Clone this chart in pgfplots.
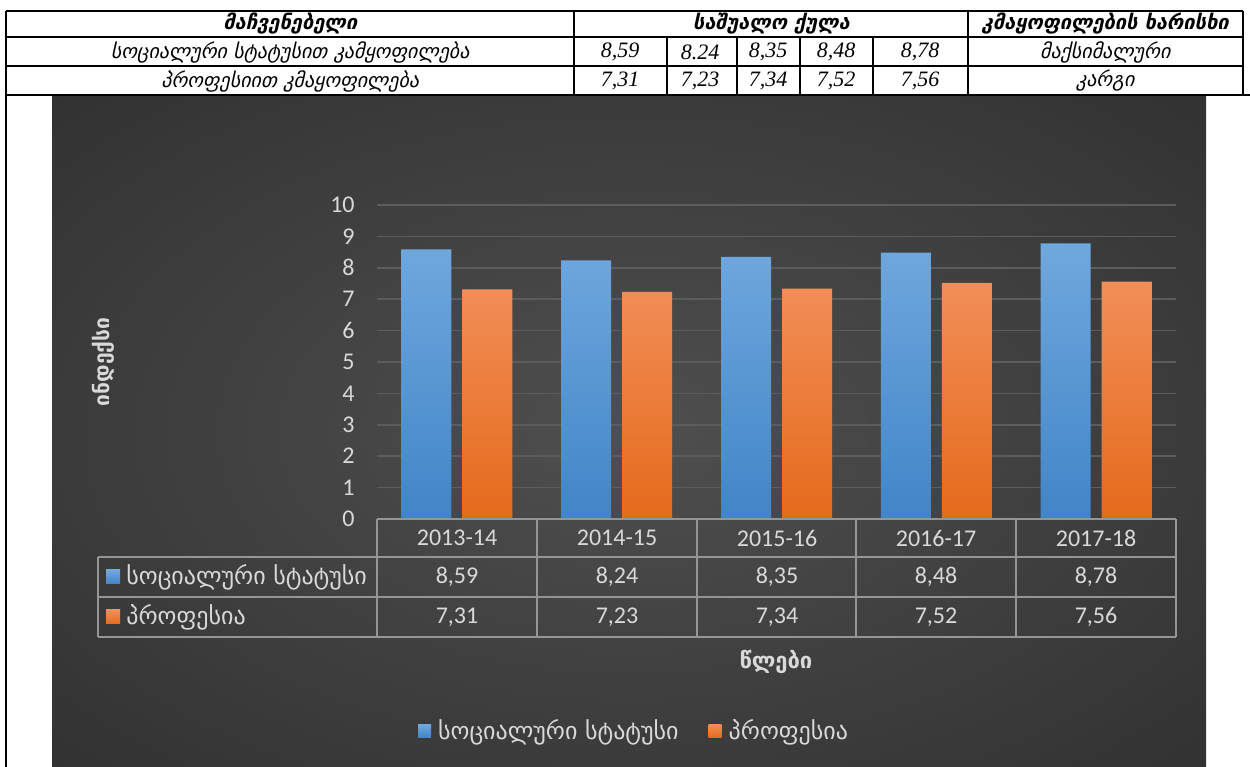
\documentclass[border=0pt]{standalone}
\usepackage{pgfplots}
\pgfplotsset{compat=1.18}
\usepackage{fontspec}
\setmainfont{Carlito}
\newfontfamily\geo{DejaVu Sans}
\newfontfamily\geoit[FakeSlant=0.22,BoldFeatures={FakeSlant=0.22}]{DejaVu Sans}
\newfontfamily\serit{Liberation Serif}
\definecolor{txt}{HTML}{D9D9D9}
\definecolor{bgin}{HTML}{4F4F4F}
\definecolor{bgout}{HTML}{262626}
\definecolor{bluetop}{HTML}{70A8DD}
\definecolor{bluebot}{HTML}{4185C8}
\definecolor{orgtop}{HTML}{F28E58}
\definecolor{orgbot}{HTML}{E56A1C}
\definecolor{gridc}{HTML}{5C5C5C}
\definecolor{tabc}{HTML}{959595}
\pgfdeclareradialshading{bgshade}{\pgfpoint{0bp}{0bp}}{color(0bp)=(bgin); color(50bp)=(bgout)}
\pgfplotstableread{
x soc prof
0.5 8.59 7.31
1.5 8.24 7.23
2.5 8.35 7.34
3.5 8.48 7.52
4.5 8.78 7.56
}\datatab
\begin{document}
\begin{tikzpicture}
\begin{scope}[x=0.5pt,y=-0.5pt,yshift=383.5pt]
\useasboundingbox (0,0) rectangle (1250,767);
% background panel
\shade[shading=bgshade] (52,96) rectangle (1206,767);
% top table
\begin{scope}[line width=1pt, black]
\draw (6,11) -- (1243,11);
\draw (6,37) -- (1243,37);
\draw (6,66) -- (1243,66);
\draw (6,95.5) -- (1250,95.5);
\draw (6,11) -- (6,767);
\draw (1243,11) -- (1243,95.5);
\draw (574,11) -- (574,95.5);
\draw (968,11) -- (968,95.5);
\foreach \xx in {667,737,800,873} \draw (\xx,37) -- (\xx,95.5);
\end{scope}
\node[font=\geoit\bfseries\fontsize{10}{12}\selectfont] at (290,24) {მაჩვენებელი};
\node[font=\geoit\bfseries\fontsize{10}{12}\selectfont] at (771,24) {საშუალო ქულა};
\node[font=\geoit\bfseries\fontsize{10}{12}\selectfont] at (1105,24) {კმაყოფილების ხარისხი};
\node[font=\geoit\fontsize{10}{12}\selectfont] at (290,52) {სოციალური სტატუსით კამყოფილება};
\node[font=\geoit\fontsize{10}{12}\selectfont] at (290,81) {პროფესიით კმაყოფილება};
\node[font=\geoit\fontsize{10}{12}\selectfont] at (1105,52) {მაქსიმალური};
\node[font=\geoit\fontsize{10}{12}\selectfont] at (1105,81) {კარგი};
\begin{scope}[font=\serit\itshape\fontsize{11}{12}\selectfont]
\node at (620,52) {8,59}; \node at (700,52) {8.24}; \node at (768,52) {8,35}; \node at (836,52) {8,48}; \node at (920,52) {8,78};
\node at (620,81) {7,31}; \node at (700,81) {7,23}; \node at (768,81) {7,34}; \node at (836,81) {7,52}; \node at (920,81) {7,56};
\end{scope}
\end{scope}
\begin{axis}[
  at={(188.5pt,124pt)}, anchor=south west,
  scale only axis, width=399.5pt, height=157pt,
  xmin=0, xmax=5, ymin=0, ymax=10, enlargelimits=false,
  xtick=\empty, ytick={0,1,...,10},
  axis line style={draw=none},
  major tick length=0pt,
  ymajorgrids, grid style={gridc, line width=0.75pt},
  ybar=5.5pt, bar width=25pt,
  yticklabel style={font=\fontsize{12}{14}\selectfont, text=txt, inner sep=0pt, xshift=-11pt},
  /pgf/number format/assume math mode=true,
  legend style={at={(0.323,-0.675)}, anchor=center, draw=none, fill=none,
    font=\geo\fontsize{12}{14}\selectfont, text=txt, legend columns=2,
    /tikz/every odd column/.append style={column sep=1.5pt},
    /tikz/every even column/.append style={column sep=13pt}},
  legend image code/.code={\fill[#1] (0pt,-3.25pt) rectangle (6.5pt,3.25pt);},
  clip=false,
]
\addplot[draw=none, top color=bluetop, bottom color=bluebot] table[x=x,y=soc] {\datatab};
\addplot[draw=none, top color=orgtop, bottom color=orgbot] table[x=x,y=prof] {\datatab};
\legend{სოციალური სტატუსი, პროფესია}
\end{axis}
\begin{scope}[x=0.5pt,y=-0.5pt,yshift=383.5pt]
% chart data table
\begin{scope}[tabc, line width=0.75pt]
\draw (377,519) -- (1176,519);
\draw (98,557) -- (1176,557);
\draw (98,597) -- (1176,597);
\draw (98,637) -- (1176,637);
\draw (98,557) -- (98,637);
\foreach \xx in {377,537,697,856,1016,1176} \draw (\xx,519) -- (\xx,637);
\end{scope}
\begin{scope}[text=txt, font=\fontsize{12}{14}\selectfont]
\node at (457,538) {2013-14}; \node at (617,538) {2014-15}; \node at (777,538) {2015-16}; \node at (936,538) {2016-17}; \node at (1096,538) {2017-18};
\node at (457,577) {8,59}; \node at (617,577) {8,24}; \node at (777,577) {8,35}; \node at (936,577) {8,48}; \node at (1096,577) {8,78};
\node at (457,617) {7,31}; \node at (617,617) {7,23}; \node at (777,617) {7,34}; \node at (936,617) {7,52}; \node at (1096,617) {7,56};
\end{scope}
\fill[top color=bluetop, bottom color=bluebot] (106,570) rectangle (120,584);
\fill[top color=orgtop, bottom color=orgbot] (106,610) rectangle (120,624);
\node[anchor=west, inner sep=0pt, text=txt, font=\geo\fontsize{12}{14}\selectfont] at (126,577) {სოციალური სტატუსი};
\node[anchor=west, inner sep=0pt, text=txt, font=\geo\fontsize{12}{14}\selectfont] at (126,617) {პროფესია};
\node[text=txt, font=\geo\bfseries\fontsize{11}{13}\selectfont] at (776,662) {წლები};
\node[text=txt, rotate=90, font=\geo\bfseries\fontsize{10.5}{13}\selectfont] at (103,362) {ინდექსი};
\end{scope}
\end{tikzpicture}
\end{document}
